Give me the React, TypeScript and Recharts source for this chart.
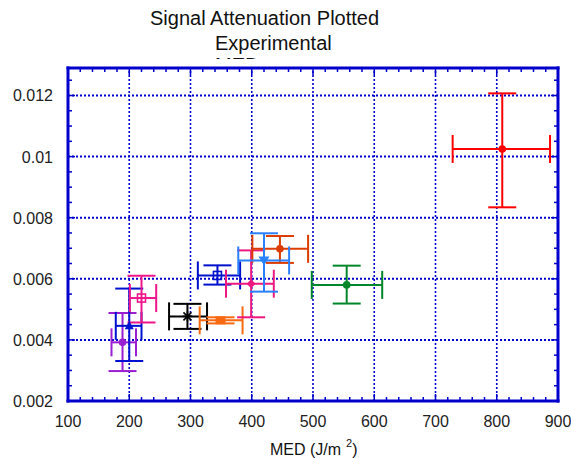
import React from 'react'
import { ErrorBar, ReferenceLine, Scatter, ScatterChart, XAxis, YAxis } from 'recharts'

// MED (J/m^2) with its low / high error limits
const medValues = [189, 200, 220, 295, 349, 344, 399, 446, 420, 555, 809]
const medLow = [171, 178, 201, 265, 315, 312, 358, 401, 378, 498, 728]
const medHigh = [211, 220, 244, 327, 385, 381, 436, 492, 461, 613, 887]

// signal attenuation with its low / high error limits
const attenuation = [0.00392, 0.00446, 0.00537, 0.00477, 0.00464, 0.00611, 0.00584, 0.00698, 0.0066, 0.0058, 0.01025]
const attLow = [0.00298, 0.00331, 0.00457, 0.00436, 0.00454, 0.00581, 0.00474, 0.00652, 0.00558, 0.00519, 0.00834]
const attHigh = [0.00488, 0.00568, 0.0061, 0.00518, 0.00474, 0.00644, 0.00693, 0.0074, 0.00749, 0.00643, 0.01207]

const xMajorTicks = [100, 200, 300, 400, 500, 600, 700, 800, 900]
const xMinorTicks = [
  120, 140, 160, 180, 220, 240, 260, 280, 320, 340, 360, 380, 420, 440, 460, 480,
  520, 540, 560, 580, 620, 640, 660, 680, 720, 740, 760, 780, 820, 840, 860, 880,
]
const yMajorTicks = [0.002, 0.004, 0.006, 0.008, 0.01, 0.012]
const yMinorTicks = [
  0.0025, 0.003, 0.0035, 0.0045, 0.005, 0.0055, 0.0065, 0.007, 0.0075,
  0.0085, 0.009, 0.0095, 0.0105, 0.011, 0.0115, 0.0125,
]

const colors = ['#9a1ed2', '#0010d0', '#ee168a', '#000000', '#f86a12', '#0010cc', '#ec1a80', '#dc3c00', '#2a80ff', '#00862a', '#ff0000']
const markers = ['circle', 'triangle', 'squareOpen', 'star', 'square', 'squareOpen', 'diamond', 'circle', 'triangleDown', 'circle', 'circle']

const BLUE = '#0000cc'
const FONT = '"Liberation Sans", Arial, Helvetica, sans-serif'
const xTicks = [...xMajorTicks, ...xMinorTicks].sort((a, b) => a - b)
const yTicks = [...yMajorTicks, ...yMinorTicks].sort((a, b) => a - b)
const isMajorY = (v: number) => yMajorTicks.some((t) => Math.abs(t - v) < 1e-9)
const frameLine = { stroke: BLUE, strokeWidth: 3, strokeLinecap: 'square' as const }

function BottomTick({ x, y, payload }: any) {
  const major = xMajorTicks.includes(payload.value)
  return (
    <g>
      <line x1={x} x2={x} y1={y} y2={y - (major ? 7 : 4)} stroke={BLUE} strokeWidth={1.5} />
      {major && (
        <text x={x} y={y + 26} textAnchor="middle" fontSize={16} fontFamily={FONT} fill="#222">
          {payload.value}
        </text>
      )}
    </g>
  )
}

function TopTick({ x, y, payload }: any) {
  const major = xMajorTicks.includes(payload.value)
  return <line x1={x} x2={x} y1={y} y2={y + (major ? 7 : 4)} stroke={BLUE} strokeWidth={1.5} />
}

function LeftTick({ x, y, payload }: any) {
  const major = isMajorY(payload.value)
  return (
    <g>
      <line x1={x} x2={x + (major ? 7 : 4)} y1={y} y2={y} stroke={BLUE} strokeWidth={1.5} />
      {major && (
        <text x={x - 15} y={y + 6} textAnchor="end" fontSize={16} fontFamily={FONT} fill="#222">
          {String(payload.value)}
        </text>
      )}
    </g>
  )
}

function RightTick({ x, y, payload }: any) {
  const major = isMajorY(payload.value)
  return <line x1={x} x2={x - (major ? 7 : 4)} y1={y} y2={y} stroke={BLUE} strokeWidth={1.5} />
}

function Marker({ cx, cy, kind, color }: { cx: number; cy: number; kind: string; color: string }) {
  switch (kind) {
    case 'triangle':
      return <polygon points={`${cx},${cy - 5} ${cx + 4.5},${cy + 3.5} ${cx - 4.5},${cy + 3.5}`} fill={color} />
    case 'triangleDown':
      return <polygon points={`${cx - 5.5},${cy - 4} ${cx + 5.5},${cy - 4} ${cx},${cy + 5}`} fill={color} />
    case 'square':
      return <rect x={cx - 5} y={cy - 4} width={10} height={8} fill={color} />
    case 'squareOpen':
      return <rect x={cx - 4} y={cy - 4} width={8} height={8} fill="none" stroke={color} strokeWidth={1.6} />
    case 'diamond':
      return <polygon points={`${cx},${cy - 4.5} ${cx + 4.5},${cy} ${cx},${cy + 4.5} ${cx - 4.5},${cy}`} fill={color} />
    case 'star':
      return (
        <g stroke={color} strokeWidth={1.6}>
          <line x1={cx - 4} y1={cy - 4} x2={cx + 4} y2={cy + 4} />
          <line x1={cx - 4} y1={cy + 4} x2={cx + 4} y2={cy - 4} />
          <line x1={cx - 5} y1={cy} x2={cx + 5} y2={cy} />
          <line x1={cx} y1={cy - 5} x2={cx} y2={cy + 5} />
        </g>
      )
    default:
      return <circle cx={cx} cy={cy} r={3.8} fill={color} />
  }
}

const series = medValues.map((x, i) => ({
  color: colors[i],
  kind: markers[i],
  data: [
    {
      x,
      y: attenuation[i],
      xErr: [x - medLow[i], medHigh[i] - x],
      yErr: [attenuation[i] - attLow[i], attHigh[i] - attenuation[i]],
    },
  ],
}))

export default function App() {
  return (
    <div style={{ position: 'absolute', left: 0, top: 0, width: 571, height: 458, background: '#fff' }}>
      <ScatterChart width={571} height={458} margin={{ top: 67, right: 12, bottom: 0, left: 0 }}>
        <XAxis
          xAxisId="x"
          type="number"
          dataKey="x"
          domain={[100, 900]}
          ticks={xTicks}
          interval={0}
          height={57}
          tickSize={0}
          tickMargin={0}
          tickLine={false}
          tick={<BottomTick />}
          axisLine={frameLine}
          allowDataOverflow
        />
        <XAxis
          xAxisId="top"
          orientation="top"
          type="number"
          dataKey="x"
          domain={[100, 900]}
          ticks={xTicks}
          interval={0}
          height={1}
          tickSize={0}
          tickMargin={0}
          tickLine={false}
          tick={<TopTick />}
          axisLine={frameLine}
          allowDataOverflow
        />
        <YAxis
          yAxisId="y"
          type="number"
          dataKey="y"
          domain={[0.002, 0.0129]}
          ticks={yTicks}
          interval={0}
          width={68}
          tickSize={0}
          tickMargin={0}
          tickLine={false}
          tick={<LeftTick />}
          axisLine={frameLine}
          allowDataOverflow
        />
        <YAxis
          yAxisId="right"
          orientation="right"
          type="number"
          dataKey="y"
          domain={[0.002, 0.0129]}
          ticks={yTicks}
          interval={0}
          width={1}
          tickSize={0}
          tickMargin={0}
          tickLine={false}
          tick={<RightTick />}
          axisLine={frameLine}
          allowDataOverflow
        />
        {xMajorTicks.slice(1, -1).map((v) => (
          <ReferenceLine key={`gx${v}`} x={v} xAxisId="x" yAxisId="y" stroke={BLUE} strokeWidth={1.6} strokeDasharray="2 2" />
        ))}
        {yMajorTicks.slice(1).map((v) => (
          <ReferenceLine key={`gy${v}`} y={v} xAxisId="x" yAxisId="y" stroke={BLUE} strokeWidth={2} strokeDasharray="2 2" />
        ))}
        {/* invisible copy bound to the top / right axes so they get drawn */}
        <Scatter
          xAxisId="top"
          yAxisId="right"
          data={series[0].data}
          isAnimationActive={false}
          shape={() => <g />}
          legendType="none"
        />
        {series.map((s, i) => (
          <Scatter
            key={i}
            xAxisId="x"
            yAxisId="y"
            data={s.data}
            fill={s.color}
            isAnimationActive={false}
            shape={(p: any) => <Marker cx={p.cx} cy={p.cy} kind={s.kind} color={s.color} />}
          >
            <ErrorBar dataKey="xErr" direction="x" width={14} stroke={s.color} strokeWidth={2} isAnimationActive={false} />
            <ErrorBar dataKey="yErr" direction="y" width={14} stroke={s.color} strokeWidth={2} isAnimationActive={false} />
          </Scatter>
        ))}
      </ScatterChart>
      <svg width={571} height={458} style={{ position: 'absolute', left: 0, top: 0, pointerEvents: 'none' }}>
        <defs>
          <clipPath id="titleClip">
            <rect x={150} y={56} width={120} height={3} />
          </clipPath>
        </defs>
        <g fontFamily={FONT} fill="#111">
          <text x={150} y={25} fontSize={20}>Signal Attenuation Plotted</text>
          <text x={215} y={50} fontSize={20}>Experimental</text>
          <text x={215} y={71.5} fontSize={20} clipPath="url(#titleClip)">MED</text>
          <text x={270} y={455} fontSize={16}>
            MED (J/m
            <tspan dx={5} dy={-8} fontSize={11}>2</tspan>
            <tspan dy={8}>)</tspan>
          </text>
        </g>
      </svg>
    </div>
  )
}
